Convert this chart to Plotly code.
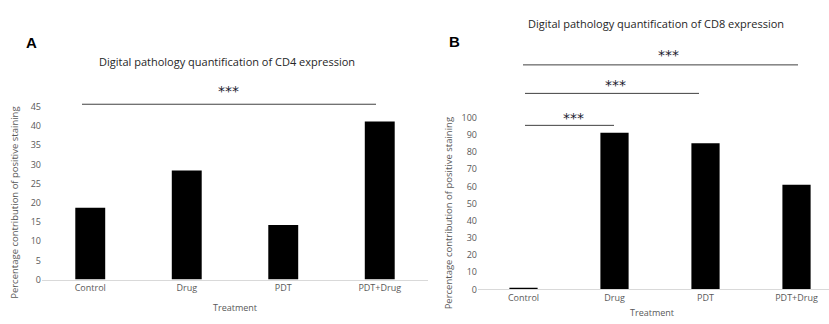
import plotly.graph_objects as go

categories = ["Control", "Drug", "PDT", "PDT+Drug"]
cd4_values = [18.7, 28.4, 14.2, 41.2]
cd8_values = [0.7, 91.2, 85.1, 61.0]
cd4_ticks = list(range(0, 50, 5))
cd8_ticks = list(range(0, 110, 10))

W, H = 829, 324
FONT = "Open Sans"
GREY = "#595959"

def px(x):
    return x / W

def py(y):
    return 1 - y / H

fig = go.Figure()
fig.add_trace(go.Bar(x=categories, y=cd4_values, marker=dict(color="black", line=dict(width=0)),
                     xaxis="x", yaxis="y", showlegend=False))
fig.add_trace(go.Bar(x=categories, y=cd8_values, marker=dict(color="black", line=dict(width=0)),
                     xaxis="x2", yaxis="y2", showlegend=False))

axis_common = dict(showgrid=False, zeroline=False, tickfont=dict(family=FONT, size=9, color=GREY),
                   ticks="", fixedrange=True)

fig.update_layout(
    width=W, height=H, margin=dict(l=0, r=0, t=0, b=0),
    paper_bgcolor="white", plot_bgcolor="white",
    bargap=0.69,
    xaxis=dict(domain=[px(42), px(428)], anchor="y", range=[-0.5, 3.5], showline=True,
               linecolor="#d9d9d9", linewidth=1, **axis_common),
    yaxis=dict(domain=[py(284), py(104)], anchor="x", range=[0, 45], tickvals=cd4_ticks,
               showline=False, **axis_common),
    xaxis2=dict(domain=[px(478), 1.0], anchor="y2", range=[-0.5, 3.357], showline=True,
                linecolor="#d9d9d9", linewidth=1, **axis_common),
    yaxis2=dict(domain=[py(294.3), py(115.3)], anchor="x2", range=[0, 100], tickvals=cd8_ticks,
                showline=False, **axis_common),
)

shapes = []
annotations = []

def sig(x0, x1, y, sy, sx):
    shapes.append(dict(type="line", xref="paper", yref="paper", x0=px(x0), x1=px(x1),
                       y0=py(y), y1=py(y), line=dict(color="#404040", width=1)))
    annotations.append(dict(xref="paper", yref="paper", x=px(sx), y=py(sy), text="***",
                            showarrow=False, font=dict(family="DejaVu Sans", size=14, color="#1a1a2e"),
                            xanchor="center", yanchor="middle"))

sig(82, 376, 101.3, 88, 228)
sig(523, 798, 60.3, 50, 668)
sig(525, 699, 90, 81, 615)
sig(525, 614, 123.3, 116, 573)

def txt(x, y, s, size, color, angle=0, bold=False, family=FONT):
    annotations.append(dict(xref="paper", yref="paper", x=px(x), y=py(y),
                            text=f"<b>{s}</b>" if bold else s, showarrow=False, textangle=angle,
                            font=dict(family=family, size=size, color=color),
                            xanchor="center", yanchor="middle"))

txt(227, 57, "Digital pathology quantification of CD4 expression", 11, "#262626")
txt(656, 17, "Digital pathology quantification of CD8 expression", 11, "#262626")
txt(31, 37, "A", 15, "black", bold=True, family="Liberation Sans")
txt(455, 36, "B", 15, "black", bold=True, family="Liberation Sans")
txt(15, 204, "Percentage contribution of positive staining", 9.5, GREY, angle=-90)
txt(448, 215, "Percentage contribution of positive staining", 9.5, GREY, angle=-90)
txt(235, 313, "Treatment", 9, GREY)
txt(652, 318, "Treatment", 9, GREY)

fig.update_layout(shapes=shapes, annotations=annotations)

post = (
    "document.documentElement.style.margin='0';document.body.style.margin='0';"
    "document.body.style.padding='0';document.documentElement.style.overflow='hidden';"
    "document.body.style.overflow='hidden';"
)
fig.write_html("out.html", post_script=post, config={"displayModeBar": False})
